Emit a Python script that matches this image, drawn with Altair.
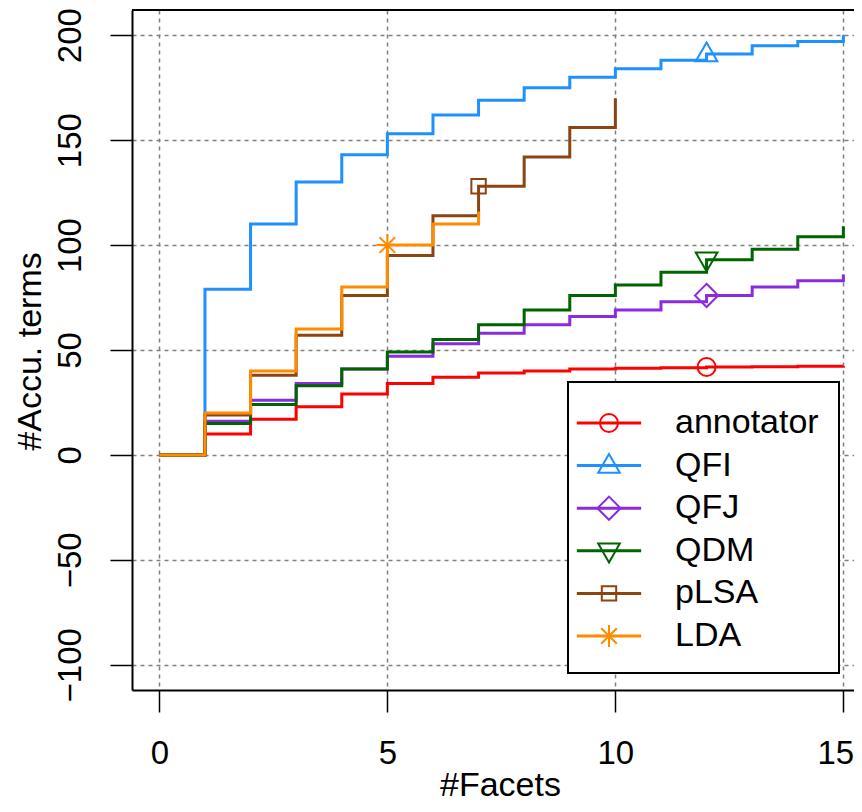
import altair as alt
import pandas as pd

# ---- data ----
series = ["annotator", "QFI", "QFJ", "QDM", "pLSA", "LDA"]
colors = ["#FF0000", "#1E90FF", "#8A2BE2", "#006400", "#8B4513", "#FF8C00"]

annotator = [0, 10, 17, 23, 29, 34, 37, 39, 40, 41, 41.3, 41.6, 41.9, 42, 42.2, 42.4]
qfi = [0, 79, 110, 130, 143, 153, 162, 169, 175, 180, 184, 188, 191, 195, 197, 200]
qfj = [0, 16, 26, 34, 41, 47, 53, 58, 62, 66, 69, 73, 76, 80, 83, 86]
qdm = [0, 15, 24, 33, 41, 49, 55, 62, 69, 76, 81, 87, 93, 98, 104, 109]
plsa = [0, 19, 38, 57, 76, 95, 114, 128, 142, 156, 170]
lda = [0, 20, 40, 60, 80, 100, 110, 116]

marker_x = [12, 12, 12, 12, 7, 5]

shapes = [
    "M-0.45,0A0.45,0.45 0 1,0 0.45,0A0.45,0.45 0 1,0 -0.45,0Z",
    "M0,-0.58L0.54,0.36L-0.54,0.36Z",
    "M0,-0.58L0.58,0L0,0.58L-0.58,0Z",
    "M0,0.58L0.54,-0.36L-0.54,-0.36Z",
    "M-0.36,-0.36L0.36,-0.36L0.36,0.36L-0.36,0.36Z",
    "M0,-0.55L0,0.55M-0.55,0L0.55,0M-0.39,-0.39L0.39,0.39M-0.39,0.39L0.39,-0.39",
]

x_ticks = [0, 5, 10, 15]
y_ticks = [-100, -50, 0, 50, 100, 150, 200]
x_domain = [-0.6, 15.233]
y_domain = [-112, 212]

values = [annotator, qfi, qfj, qdm, plsa, lda]

rows = []
for i, (name, vals) in enumerate(zip(series, values)):
    for x, v in enumerate(vals):
        rows.append({"series": name, "order": i, "x": x, "y": v})
df = pd.DataFrame(rows)

pts = pd.DataFrame({
    "series_copy": series,
    "order": list(range(len(series))),
    "x": marker_x,
    "y": [vals[mx] for vals, mx in zip(values, marker_x)],
})

FONT = "Liberation Sans"
sort_order = alt.EncodingSortField(field="order", op="min")

xscale = alt.Scale(domain=x_domain, nice=False, zero=False)
yscale = alt.Scale(domain=y_domain, nice=False, zero=False)

legend_lines = alt.Legend(
    orient="none", legendX=436, legendY=372, title=None, padding=20,
    labelFontSize=34, labelFont=FONT, labelColor="black", labelOffset=45,
    labelLimit=400, symbolType="M-1.65,0L1.65,0", symbolSize=1521,
    symbolStrokeWidth=3, fillColor="white", strokeColor="black",
    rowPadding=4.6, zindex=1,
)
legend_marks = alt.Legend(
    orient="none", legendX=436, legendY=372, title=None, padding=20,
    labelFontSize=34, labelFont=FONT, labelOpacity=0, labelOffset=45,
    labelLimit=400, symbolSize=1600, symbolStrokeWidth=2,
    rowPadding=4.6, zindex=2,
)

lines = alt.Chart(df).mark_line(interpolate="step-after", strokeWidth=3).encode(
    x=alt.X("x:Q", scale=xscale, axis=alt.Axis(
        values=x_ticks, title="#Facets", grid=True,
        labelBaseline="alphabetic", labelAlign="center", labelPadding=51,
        labelOffset={"condition": {"test": "datum.value == 15", "value": -8}, "value": 0},
        titleX=368, titleY=105, titleBaseline="alphabetic", titleAlign="center",
    )),
    y=alt.Y("y:Q", scale=yscale, axis=alt.Axis(
        values=y_ticks, title="#Accu. terms", grid=True,
        labelAngle=270, labelAlign="center", labelBaseline="alphabetic",
        labelPadding=30,
        titleAngle=270, titleX=-92, titleY=341, titleBaseline="alphabetic",
        titleAlign="center",
    )),
    color=alt.Color("series:N", sort=sort_order,
                    scale=alt.Scale(range=colors), legend=legend_lines),
)

points = alt.Chart(pts).mark_point(filled=False, size=1600, strokeWidth=2, opacity=1).encode(
    x=alt.X("x:Q"),
    y=alt.Y("y:Q"),
    stroke=alt.Stroke("series_copy:N", sort=sort_order,
                      scale=alt.Scale(range=colors), legend=legend_marks),
    shape=alt.Shape("series_copy:N", sort=sort_order,
                    scale=alt.Scale(range=shapes), legend=legend_marks),
)

top_border = alt.Chart(pd.DataFrame({"k": [0]})).mark_rule(
    color="black", strokeWidth=2
).encode(y=alt.datum(y_domain[1]))

chart = alt.layer(lines, points, top_border).properties(
    width=722, height=680,
    autosize=alt.AutoSizeParams(type="none"),
    padding={"left": 124, "top": 2, "right": 0, "bottom": 114},
).configure_view(stroke=None).configure_axis(
    domainColor="black", domainWidth=2,
    tickColor="black", tickWidth=1.5, tickSize=22,
    labelFont=FONT, titleFont=FONT, labelFontSize=33, titleFontSize=34,
    labelColor="black", titleColor="black", titleFontWeight="normal",
    gridColor="#808080", gridDash=[4, 4], gridWidth=1.5, gridOpacity=1,
    labelFlush=False, labelOverlap=False,
).configure_legend(strokeWidth=2)

chart.save("out.html", embed_options={"renderer": "svg", "actions": False})
